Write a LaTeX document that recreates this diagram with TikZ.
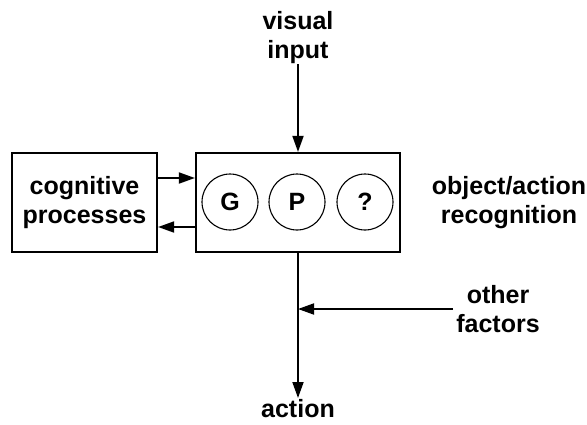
\documentclass[tikz,border=0pt]{standalone}
\usepackage{fontspec}
\setmainfont{Liberation Sans}
\usetikzlibrary{arrows.meta}

\begin{document}
\begin{tikzpicture}[x=1pt,y=-1pt,
    font=\fontsize{25}{29}\selectfont\bfseries,
    box/.style={draw,line width=2.2pt,minimum width=204pt,minimum height=99pt,align=center},
    ring/.style={draw,circle,line width=1.1pt,minimum size=56pt,inner sep=0pt},
    tag/.style={align=center,inner sep=0pt},
    arr/.style={line width=1.8pt,-{Triangle[length=16pt,width=11pt]}}]
    \useasboundingbox (0,0) rectangle (587,424);
    \node[box] (recog) at (298,202.5) {};
    \node[box,minimum width=145pt] (cog) at (84.5,202.5) {cognitive\\processes};
    \node[ring] (g) at (230,202) {G};
    \node[ring] (p) at (297,202) {P};
    \node[ring] (q) at (365,202) {?};
    \node[tag] (visual) at (298,38) {visual\\input};
    \node[tag] (objrec) at (509,203) {object/action\\recognition};
    \node[tag] (other) at (498,309) {other\\factors};
    \node[tag,anchor=north,inner sep=1pt] (action) at (298,398) {action};
    % feedback between recognition and cognition
    \draw[arr] ([yshift=24.5pt]cog.east) -- ([yshift=24.5pt]recog.west);
    \draw[arr] ([yshift=-24.5pt]recog.west) -- ([yshift=-24.5pt]cog.east);
    \draw[arr] (visual) -- (recog);
    \draw[arr] (recog) -- (action);
    \coordinate (join) at (recog.south |- other.west);
    \draw[arr] ([xshift=-3pt]other.west) -- (join);
\end{tikzpicture}
\end{document}
